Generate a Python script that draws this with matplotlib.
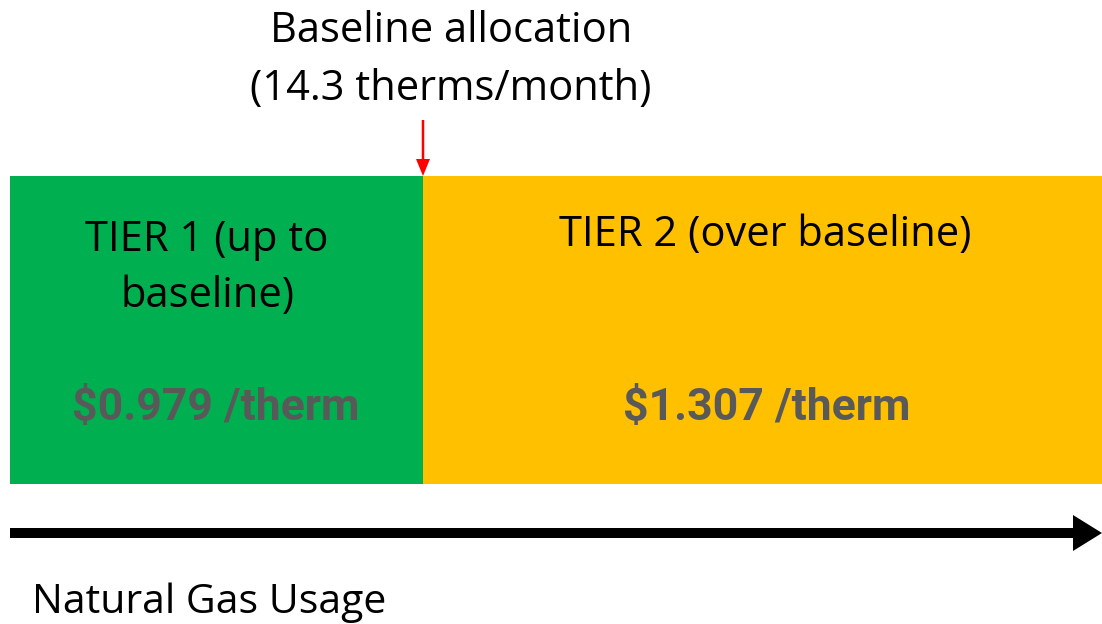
import matplotlib.pyplot as plt
from matplotlib.patches import Rectangle, FancyArrow

# tier data
tier_labels = ['TIER 1 (up to\nbaseline)', 'TIER 2 (over baseline)']
tier_prices = [0.979, 1.307]
tier_colors = ['#00B050', '#FFC000']
tier_edges = [10, 423, 1102]  # left edge, baseline, right edge (pixels)
baseline_therms = 14.3

fig = plt.figure(figsize=(11.02, 6.24), dpi=100)
ax = fig.add_axes([0, 0, 1, 1])
ax.set_xlim(0, 1102)
ax.set_ylim(624, 0)
ax.axis('off')

font = 'Open Sans'
fs = 30
top, bottom = 176, 484

for i in range(len(tier_labels)):
    x0, x1 = tier_edges[i], tier_edges[i + 1]
    ax.add_patch(Rectangle((x0, top), x1 - x0, bottom - top, color=tier_colors[i], lw=0))

# labels
ax.text(207, 268, tier_labels[0], ha='center', va='center', fontsize=fs, family=font,
        linespacing=1.45)
ax.text(765, 235, tier_labels[1], ha='center', va='center', fontsize=fs, family=font)
ax.text(216, 408, f'${tier_prices[0]:.3f} /therm', ha='center', va='center', fontsize=32,
        family='Roboto', fontweight='bold', color='#595959')
ax.text(767, 408, f'${tier_prices[1]:.3f} /therm', ha='center', va='center', fontsize=32,
        family='Roboto', fontweight='bold', color='#595959')

# baseline marker
ax.text(451, 60, f'Baseline allocation\n({baseline_therms} therms/month)', ha='center',
        va='center', fontsize=fs, family=font, linespacing=1.47)
ax.add_patch(FancyArrow(tier_edges[1], 120, 0, 56, width=2.5, head_width=14,
                        head_length=17, length_includes_head=True, color='red', lw=0))

# usage axis arrow
ax.add_patch(FancyArrow(10, 533, 1092, 0, width=10, head_width=36, head_length=29,
                        length_includes_head=True, color='black', lw=0))
ax.text(32, 603, 'Natural Gas Usage', ha='left', va='center', fontsize=29.5, family=font)

fig.savefig('out.png', dpi=100)
